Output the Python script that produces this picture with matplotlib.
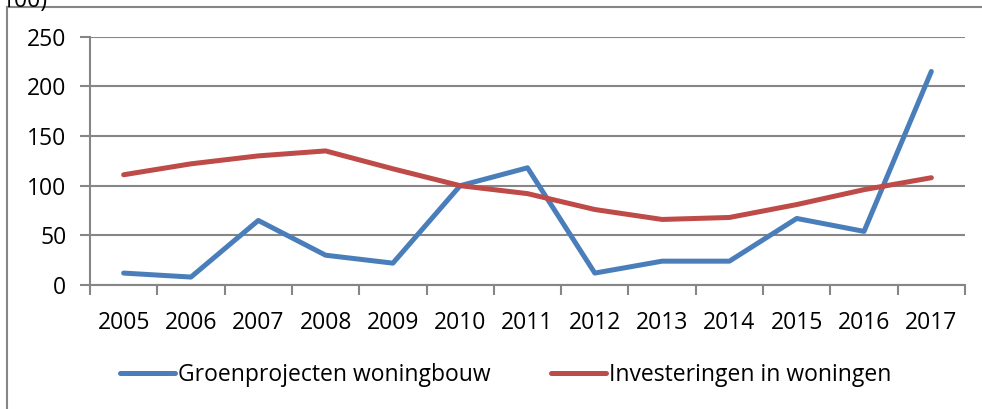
import matplotlib.pyplot as plt
from matplotlib.lines import Line2D

years = ["2005", "2006", "2007", "2008", "2009", "2010", "2011",
         "2012", "2013", "2014", "2015", "2016", "2017"]
groen = [12, 8, 65, 30, 22, 100, 118, 12, 24, 24, 67, 54, 215]
investeringen = [111, 122, 130, 135, 117, 100, 92, 76, 66, 68, 81, 96, 108]
y_ticks = [0, 50, 100, 150, 200, 250]

BLUE = "#4A7EBB"
RED = "#BE4B48"
GRID = "#868686"

plt.rcParams.update({
    "font.family": ["Open Sans", "DejaVu Sans"],
    "font.size": 16.5,
})

fig = plt.figure(figsize=(9.82, 4.09), dpi=100)
axis = fig.add_axes([90 / 982, 1 - 285 / 409, 875 / 982, 248.3 / 409])

x = list(range(len(years)))
axis.plot(x, groen, color=BLUE, linewidth=3.6, solid_capstyle="round",
          solid_joinstyle="round", label="Groenprojecten woningbouw", zorder=3)
axis.plot(x, investeringen, color=RED, linewidth=3.6, solid_capstyle="round",
          solid_joinstyle="round", label="Investeringen in woningen", zorder=3)

axis.set_xlim(-0.5, len(years) - 0.5)
axis.set_ylim(0, 250)
axis.set_yticks(y_ticks)
axis.set_xticks(x, years)
axis.set_xticks([i - 0.5 for i in range(len(years) + 1)], minor=True)
axis.tick_params(axis="x", which="major", length=0, pad=19)
axis.tick_params(axis="x", which="minor", length=7, width=1.5, color=GRID)
axis.tick_params(axis="y", length=7, width=1.5, color=GRID, pad=10)
axis.yaxis.grid(True, color=GRID, linewidth=1.5)
axis.set_axisbelow(True)
for side in ("top", "right"):
    axis.spines[side].set_visible(False)
for side in ("left", "bottom"):
    axis.spines[side].set_color(GRID)
    axis.spines[side].set_linewidth(1.5)

handles = [
    Line2D([], [], color=BLUE, linewidth=3.6, solid_capstyle="round"),
    Line2D([], [], color=RED, linewidth=3.6, solid_capstyle="round"),
]
fig.legend(handles, ["Groenprojecten woningbouw", "Investeringen in woningen"],
           loc="center", bbox_to_anchor=(0.515, 1 - 375 / 409), ncol=2,
           frameon=False, handlelength=2.4, handletextpad=0.15, columnspacing=2.6)

# outer chart frame (only left and top edges visible)
fig.add_artist(Line2D([7 / 982, 7 / 982], [0, 1 - 7 / 409], color=GRID, linewidth=1.5))
fig.add_artist(Line2D([7 / 982, 1], [1 - 7 / 409, 1 - 7 / 409], color=GRID, linewidth=1.5))

# caption text above the frame, cut off by the top edge as in the source
fig.text(2 / 982, 1 - 1 / 409, "100)", ha="left", va="center")

fig.savefig("out.png", dpi=100)
